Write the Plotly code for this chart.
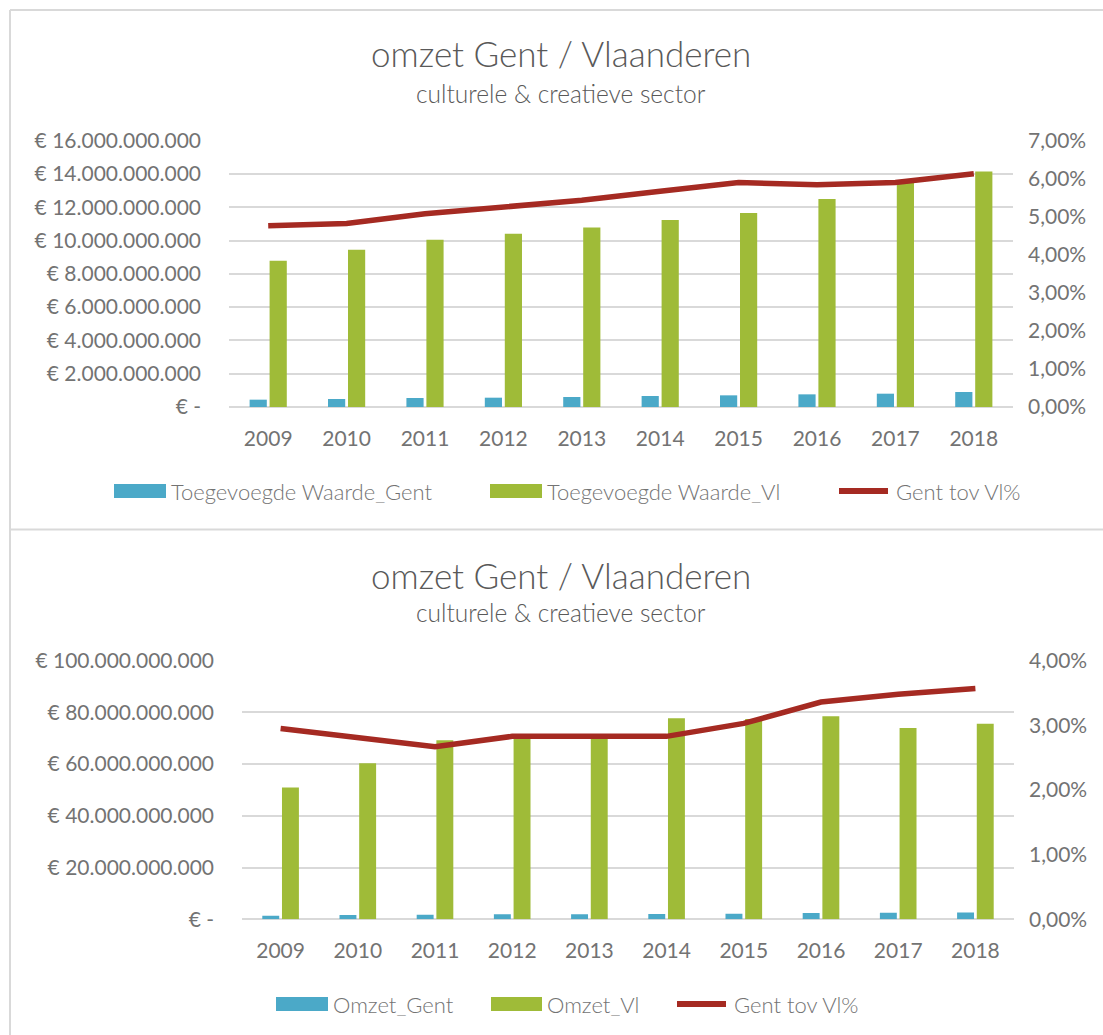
import plotly.graph_objects as go

# ---------------- data ----------------
years = ["2009", "2010", "2011", "2012", "2013", "2014", "2015", "2016", "2017", "2018"]

# chart 1: toegevoegde waarde (EUR)
tw_gent = [0.44e9, 0.48e9, 0.54e9, 0.56e9, 0.60e9, 0.66e9, 0.70e9, 0.76e9, 0.80e9, 0.90e9]
tw_vl = [8.78e9, 9.44e9, 10.05e9, 10.41e9, 10.78e9, 11.23e9, 11.65e9, 12.49e9, 13.47e9, 14.15e9]
tw_pct = [0.0476, 0.0482, 0.0508, 0.0527, 0.0543, 0.0567, 0.0590, 0.0584, 0.0590, 0.0613]

# chart 2: omzet (EUR)
om_gent = [1.40e9, 1.66e9, 1.80e9, 1.93e9, 1.95e9, 2.05e9, 2.10e9, 2.45e9, 2.50e9, 2.60e9]
om_vl = [51.0e9, 60.3e9, 69.2e9, 70.1e9, 70.3e9, 77.7e9, 77.5e9, 78.5e9, 74.0e9, 75.6e9]
om_pct = [0.0295, 0.0280, 0.0267, 0.0283, 0.0284, 0.0283, 0.0303, 0.0336, 0.0348, 0.0357]

title_text = "omzet Gent / Vlaanderen"
subtitle_text = "culturele & creatieve sector"
names_top = ["Toegevoegde Waarde_Gent", "Toegevoegde Waarde_Vl", "Gent tov Vl%"]
names_bot = ["Omzet_Gent", "Omzet_Vl", "Gent tov Vl%"]

left_ticks_top = [i * 2e9 for i in range(9)]
right_ticks_top = [i / 100 for i in range(8)]
left_ticks_bot = [i * 20e9 for i in range(6)]
right_ticks_bot = [i / 100 for i in range(5)]

# ---------------- style ----------------
W, H = 1103, 1035
BLUE = "#4BA9C8"
GREEN = "#9FBB38"
RED = "#A52A22"
GRID = "#D9D9D9"
TICK = "#737373"
TITLE = "#595959"
FONT = "Lato"


def px(x):
    return x / W


def py(y):
    return 1 - y / H


def eur(v):
    if v == 0:
        return "€ -"
    return "€ " + f"{v:,.0f}".replace(",", ".")


def pct(v):
    return f"{v * 100:.2f}%".replace(".", ",")


fig = go.Figure()

# chart 1
fig.add_trace(go.Bar(x=years, y=tw_gent, name=names_top[0], marker_color=BLUE,
                     xaxis="x", yaxis="y", showlegend=False))
fig.add_trace(go.Bar(x=years, y=tw_vl, name=names_top[1], marker_color=GREEN,
                     xaxis="x", yaxis="y", showlegend=False))
fig.add_trace(go.Scatter(x=years, y=tw_pct, name=names_top[2], mode="lines",
                         line=dict(color=RED, width=5.5), xaxis="x", yaxis="y2",
                         showlegend=False))
# chart 2
fig.add_trace(go.Bar(x=years, y=om_gent, name=names_bot[0], marker_color=BLUE,
                     xaxis="x2", yaxis="y3", showlegend=False))
fig.add_trace(go.Bar(x=years, y=om_vl, name=names_bot[1], marker_color=GREEN,
                     xaxis="x2", yaxis="y3", showlegend=False))
fig.add_trace(go.Scatter(x=years, y=om_pct, name=names_bot[2], mode="lines",
                         line=dict(color=RED, width=5.5), xaxis="x2", yaxis="y4",
                         showlegend=False))

tickfont = dict(family=FONT, size=21, color=TICK)

dom_x1 = [px(229), px(1013)]
dom_y1 = [py(407), py(140.6)]
dom_x2 = [px(242), px(1014)]
dom_y2 = [py(919.3), py(660.7)]

fig.update_layout(
    template="none",
    width=W, height=H,
    margin=dict(l=0, r=0, t=0, b=0, autoexpand=False),
    paper_bgcolor="white", plot_bgcolor="white",
    barmode="group", bargap=0.49, bargroupgap=0.14,
    showlegend=False,
    xaxis=dict(domain=dom_x1, anchor="y", type="category", showgrid=False,
               showline=False, ticks="", tickfont=tickfont, ticklabelstandoff=17,
               automargin=False, fixedrange=True),
    yaxis=dict(domain=dom_y1, anchor="x", range=[0, 16e9], tickvals=left_ticks_top,
               ticktext=[eur(v) for v in left_ticks_top], showgrid=True,
               gridcolor=GRID, gridwidth=1.5, zeroline=True, zerolinecolor=GRID,
               zerolinewidth=1.5, showline=False, tickfont=tickfont, ticks="",
               ticklabelstandoff=27, automargin=False),
    yaxis2=dict(overlaying="y", side="right", anchor="x", range=[0, 0.07],
                tickvals=right_ticks_top, ticktext=[pct(v) for v in right_ticks_top],
                showgrid=False, zeroline=False, showline=False, tickfont=tickfont,
                ticks="", ticklabelstandoff=14, automargin=False),
    xaxis2=dict(domain=dom_x2, anchor="y3", type="category", showgrid=False,
                showline=False, ticks="", tickfont=tickfont, ticklabelstandoff=17,
                automargin=False),
    yaxis3=dict(domain=dom_y2, anchor="x2", range=[0, 100e9], tickvals=left_ticks_bot,
                ticktext=[eur(v) for v in left_ticks_bot], showgrid=True,
                gridcolor=GRID, gridwidth=1.5, zeroline=True, zerolinecolor=GRID,
                zerolinewidth=1.5, showline=False, tickfont=tickfont, ticks="",
                ticklabelstandoff=27, automargin=False),
    yaxis4=dict(overlaying="y3", side="right", anchor="x2", range=[0, 0.04],
                tickvals=right_ticks_bot, ticktext=[pct(v) for v in right_ticks_bot],
                showgrid=False, zeroline=False, showline=False, tickfont=tickfont,
                ticks="", ticklabelstandoff=14, automargin=False),
)

shapes = []
annotations = []

# chart frames
border = dict(color=GRID, width=2)
shapes.append(dict(type="line", xref="paper", yref="paper", x0=px(10), x1=1,
                   y0=py(10), y1=py(10), line=border))
shapes.append(dict(type="line", xref="paper", yref="paper", x0=px(10), x1=px(10),
                   y0=py(10), y1=0, line=border))
shapes.append(dict(type="line", xref="paper", yref="paper", x0=px(10), x1=1,
                   y0=py(529.5), y1=py(529.5), line=border))

# titles
for ty, sy in [(53, 93), (575, 612)]:
    annotations.append(dict(text=title_text, x=px(561), y=py(ty), xref="paper",
                            yref="paper", showarrow=False, xanchor="center",
                            yanchor="middle",
                            font=dict(family=FONT, size=35, color=TITLE, weight=300)))
    annotations.append(dict(text=subtitle_text, x=px(561), y=py(sy), xref="paper",
                            yref="paper", showarrow=False, xanchor="center",
                            yanchor="middle",
                            font=dict(family=FONT, size=24.5, color=TITLE, weight=300)))

# custom legends
legend_specs = [
    (names_top, 491, [(114, 166), (490, 542), (836, 891)]),
    (names_bot, 1004, [(276, 328), (491, 542), (674, 729)]),
]
colors = [BLUE, GREEN, RED]
for names, yc, spans in legend_specs:
    for i, (name, (x0, x1)) in enumerate(zip(names, spans)):
        if i < 2:
            shapes.append(dict(type="rect", xref="paper", yref="paper",
                               x0=px(x0), x1=px(x1), y0=py(yc - 7), y1=py(yc + 7),
                               fillcolor=colors[i], line=dict(width=0)))
        else:
            shapes.append(dict(type="line", xref="paper", yref="paper",
                               x0=px(x0 + 3), x1=px(x1 - 3), y0=py(yc), y1=py(yc),
                               line=dict(color=colors[i], width=6)))
        annotations.append(dict(text=name, x=px(x1 + 3), y=py(yc), xref="paper",
                                yref="paper", showarrow=False, xanchor="left",
                                yanchor="middle",
                                font=dict(family=FONT, size=22, color=TICK, weight=300)))

fig.update_layout(shapes=shapes, annotations=annotations)

fig.write_html("out.html",
               config={"displayModeBar": False},
               post_script="document.body.style.margin='0';"
                           "document.body.style.overflow='hidden';")
